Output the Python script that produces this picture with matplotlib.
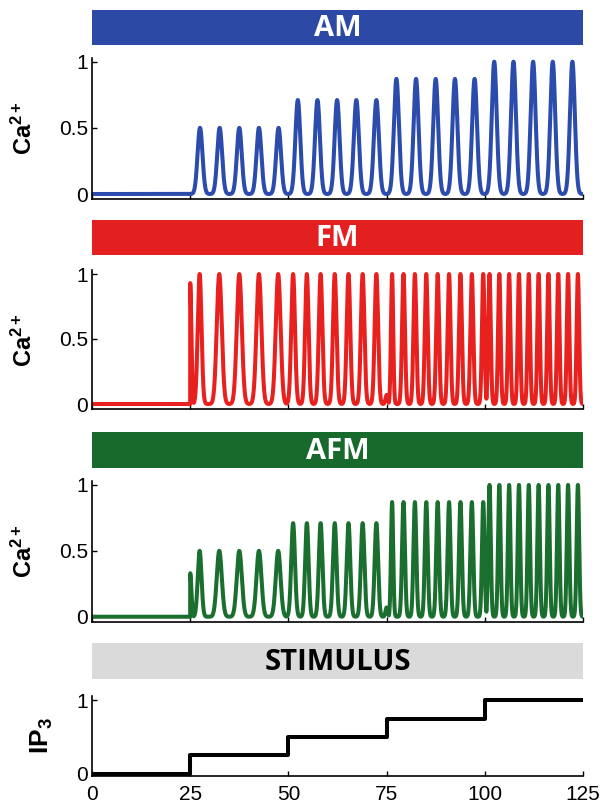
import numpy as np
import matplotlib.pyplot as plt

plt.rcParams['font.family'] = ['Liberation Sans', 'DejaVu Sans']
plt.rcParams['mathtext.fontset'] = 'custom'
plt.rcParams['mathtext.bf'] = 'Liberation Sans:bold'
plt.rcParams['mathtext.rm'] = 'Liberation Sans'

#Peak times and heights
am_times = [27.5, 32.5, 37.5, 42.5, 47.5, 52.4, 57.4, 62.4, 67.3, 72.4,
            77.5, 82.5, 87.5, 92.4, 97.4, 102.4, 107.3, 112.3, 117.3, 122.3]
am_heights = [0.5, 0.5, 0.5, 0.5, 0.5, 0.71, 0.71, 0.71, 0.71, 0.71,
              0.87, 0.87, 0.87, 0.87, 0.87, 1.0, 1.0, 1.0, 1.0, 1.0]

fm_times = [25.0, 27.4, 32.4, 37.5, 42.5, 47.4,
            51.2, 54.7, 58.2, 61.8, 65.3, 68.9, 72.4,
            75.0, 76.4, 79.3, 82.2, 85.1, 88.0, 90.9, 93.8, 96.7, 99.6,
            101.2, 103.7, 106.2, 108.7, 111.2, 113.7, 116.2, 118.7, 121.2, 123.7]
fm_heights = [0.93, 1.0, 1.0, 1.0, 1.0, 1.0,
              1.0, 1.0, 1.0, 1.0, 1.0, 1.0, 1.0,
              0.07, 1.0, 1.0, 1.0, 1.0, 1.0, 1.0, 1.0, 1.0, 1.0,
              1.0, 1.0, 1.0, 1.0, 1.0, 1.0, 1.0, 1.0, 1.0, 1.0]

afm_times = [25.0, 27.4, 32.4, 37.5, 42.5, 47.4,
             51.2, 54.7, 58.2, 61.8, 65.3, 68.9, 72.4,
             75.0, 76.4, 79.3, 82.2, 85.1, 88.0, 90.9, 93.8, 96.7, 99.6,
             101.2, 103.7, 106.2, 108.7, 111.2, 113.7, 116.2, 118.7, 121.2, 123.7]
afm_heights = [0.33, 0.5, 0.5, 0.5, 0.5, 0.5,
               0.71, 0.71, 0.71, 0.71, 0.71, 0.71, 0.71,
               0.07, 0.87, 0.87, 0.87, 0.87, 0.87, 0.87, 0.87, 0.87, 0.87,
               1.0, 1.0, 1.0, 1.0, 1.0, 1.0, 1.0, 1.0, 1.0, 1.0]

ip3_t = [0, 25, 50, 75, 100, 125]
ip3_v = [0, 0.25, 0.5, 0.75, 1.0, 1.0]

onset = 25
xticks = [0, 25, 50, 75, 100, 125]

t = np.linspace(0, 125, 25001)

def trace(times, heights):
   #each spike drawn as a bump whose width follows the local spacing
   times = np.asarray(times)
   heights = np.asarray(heights)
   gaps = np.diff(times)
   prev, nxt = np.r_[gaps[0], gaps], np.r_[gaps, gaps[-1]]
   sig = np.minimum(0.125 * np.maximum(prev, nxt), 0.2 * np.minimum(prev, nxt))
   y = (heights[:, None] * np.exp(-0.5 * ((t - times[:, None]) / sig[:, None])**2)).max(0)
   y[t < onset] = 0
   return y

W, H = 610, 807
fig = plt.figure(figsize=(W / 100, H / 100), dpi=100)
x0, x1 = 92, 583

def fig_axes(top, bottom):
   return fig.add_axes([x0 / W, 1 - bottom / H, (x1 - x0) / W, (bottom - top) / H])

def title_bar(top, bottom, text, face, fg):
   bar = fig_axes(top, bottom)
   bar.set_facecolor(face)
   bar.set_xticks([])
   bar.set_yticks([])
   for s in bar.spines.values():
      s.set_visible(False)
   bar.text(0.5, 0.47, text, transform=bar.transAxes, ha='center', va='center',
            color=fg, fontsize=21, fontweight='bold', family=['Open Sans', 'DejaVu Sans'])

def style(ax, ylim, yticks, yticklabels, show_x):
   ax.set_xlim(0, 125)
   ax.set_ylim(*ylim)
   for s in ['top', 'right']:
      ax.spines[s].set_visible(False)
   for s in ['left', 'bottom']:
      ax.spines[s].set_linewidth(1.2)
   ax.set_xticks(xticks)
   ax.set_yticks(yticks)
   ax.set_yticklabels(yticklabels)
   ax.tick_params(direction='in', length=3.5, width=1, labelsize=15, pad=3)
   ax.tick_params(axis='x', pad=6)
   if not show_x:
      ax.set_xticklabels([])
   ax.patch.set_alpha(0)

panels = [
   ('AM', am_times, am_heights, '#2C49A6', '#2B4BAD', (10, 45), (57.7, 199.3)),
   ('FM', fm_times, fm_heights, '#E3201F', '#E8211F', (220, 255), (270.1, 409.2)),
   ('AFM', afm_times, afm_heights, '#17692C', '#1A6E2E', (432, 468), (481, 622)),
]

for name, times, heights, bar_col, line_col, bar_px, ax_px in panels:
   title_bar(bar_px[0], bar_px[1], name, bar_col, 'white')
   ax = fig_axes(*ax_px)
   ax.plot(t, trace(times, heights), color=line_col, lw=2.9, solid_joinstyle='round')
   style(ax, (-0.04, 1.03), [0, 0.5, 1], ['0', '0.5', '1'], False)
   ax.set_ylabel(r'$\mathbf{Ca^{2+}}$', fontsize=17)
   ax.yaxis.set_label_coords(-0.112, 0.5)

title_bar(643, 679, 'STIMULUS', '#DADADA', 'black')
ax = fig_axes(695.6, 776.2)
ax.step(ip3_t, ip3_v, where='post', color='black', lw=2.9)
style(ax, (-0.03, 1.06), [0, 1], ['0', '1'], True)
ax.set_ylabel(r'$\mathbf{IP_3}$', fontsize=19)
ax.yaxis.set_label_coords(-0.075, 0.5)

fig.savefig('out.png', dpi=100)
